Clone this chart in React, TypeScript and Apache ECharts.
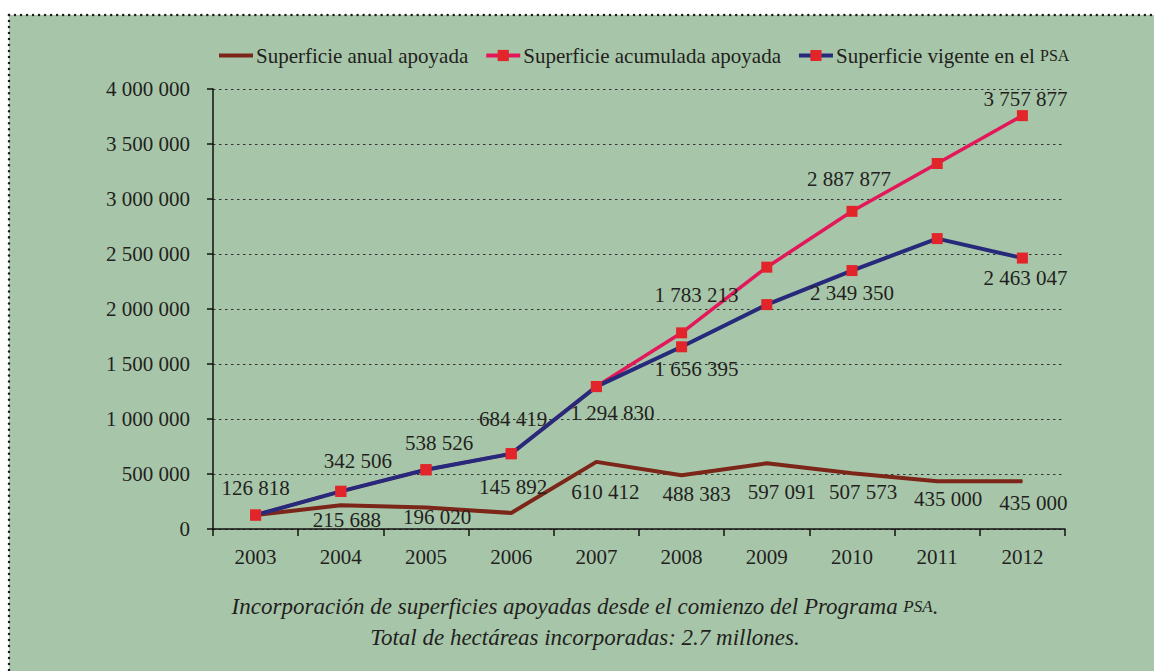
import React, { useEffect, useRef } from 'react';
import * as echarts from 'echarts';

const years = ['2003', '2004', '2005', '2006', '2007', '2008', '2009', '2010', '2011', '2012'];
const anual = [126818, 215688, 196020, 145892, 610412, 488383, 597091, 507573, 435000, 435000];
const acumulada = [126818, 342506, 538526, 684419, 1294830, 1783213, 2380304, 2887877, 3322877, 3757877];
const vigente = [126818, 342506, 538526, 684419, 1294830, 1656395, 2040000, 2349350, 2640000, 2463047];

const seriesNames = ['Superficie anual apoyada', 'Superficie acumulada apoyada', 'Superficie vigente en el PSA'];
const captionLine1 = 'Incorporación de superficies apoyadas desde el comienzo del Programa {sc|PSA}.';
const captionLine2 = 'Total de hectáreas incorporadas: 2.7 millones.';

// label placement (offset of label centre from the point), null = no label
const anualLabelOffsets: (number[] | null)[] = [null, [6, 15], [11, 10], [2, -26], [9, 30], [15, 19], [15, 29], [11, 19], [11, 18], [11, 22]];
const acumLabelOffsets: (number[] | null)[] = [[0, -27], [17, -30], [13, -27], [2, -35], [16, 26], [15, -38], null, [-3, -32], null, [3, -17]];
const vigenteLabelOffsets: (number[] | null)[] = [null, null, null, null, null, [15, 22], null, [0, 22], null, [3, 20]];

const FONT = '"Liberation Serif", "DejaVu Serif", serif';
const TEXT = '#231f20';
const GREEN = '#a7c6a9';
const BROWN = '#7b2618';
const CRIMSON = '#e3185a';
const NAVY = '#27297a';
const MARK = '#e2242b';

const fmt = (v: number) => String(v).replace(/\B(?=(\d{3})+(?!\d))/g, ' ');

function buildData(values: number[], offsets: (number[] | null)[]) {
  return values.map((v, i) => {
    const off = offsets[i];
    return {
      value: v,
      label: off
        ? {
            show: true,
            position: 'inside',
            offset: off,
            formatter: () => fmt(v),
            color: TEXT,
            fontFamily: FONT,
            fontSize: 21,
            textBorderWidth: 0,
          }
        : { show: false },
    };
  });
}

export default function App() {
  const ref = useRef<HTMLDivElement>(null);
  useEffect(() => {
    if (!ref.current) return;
    const chart = echarts.init(ref.current, null, { renderer: 'svg' });
    chart.setOption({
      animation: false,
      backgroundColor: '#ffffff',
      textStyle: { fontFamily: FONT, color: TEXT },
      graphic: [
        { type: 'rect', z: -10, silent: true, shape: { x: 9, y: 15, width: 1150, height: 660 }, style: { fill: GREEN } },
        { type: 'line', z: -5, silent: true, shape: { x1: 9, y1: 15, x2: 1154, y2: 15 }, style: { stroke: '#1a1a1a', lineWidth: 2.5, lineDash: [0.01, 6], lineCap: 'round' } },
        { type: 'line', z: -5, silent: true, shape: { x1: 9, y1: 15, x2: 9, y2: 671 }, style: { stroke: '#1a1a1a', lineWidth: 2.5, lineDash: [0.01, 6], lineCap: 'round' } },
        {
          type: 'text', x: 585, y: 606,
          style: {
            text: captionLine1, fill: TEXT, font: 'italic 23px ' + FONT,
            textAlign: 'center', textVerticalAlign: 'middle',
            rich: { sc: { fontSize: 17, fontStyle: 'italic', fontFamily: FONT, fill: TEXT } },
          },
        },
        {
          type: 'text', x: 585, y: 637,
          style: { text: captionLine2, fill: TEXT, font: 'italic 23px ' + FONT, textAlign: 'center', textVerticalAlign: 'middle' },
        },
      ],
      legend: {
        left: 214,
        top: 40,
        itemWidth: 34,
        itemHeight: 14,
        itemGap: 16,
        data: [
          { name: seriesNames[0], icon: 'path://M0,0H34V4H0Z', itemStyle: { color: BROWN } },
          { name: seriesNames[1], lineStyle: { color: CRIMSON, width: 4 }, itemStyle: { color: MARK } },
          { name: seriesNames[2], lineStyle: { color: NAVY, width: 4 }, itemStyle: { color: MARK } },
        ],
        formatter: (n: string) => n.replace('PSA', '{sc|PSA}'),
        textStyle: {
          fontFamily: FONT, fontSize: 21, color: TEXT, padding: [0, 0, 0, -2],
          rich: { sc: { fontSize: 16, fontFamily: FONT, color: TEXT } },
        },
      },
      grid: { left: 213, right: 89, top: 89, bottom: 142, containLabel: false },
      xAxis: {
        type: 'category',
        data: years,
        boundaryGap: true,
        axisLine: { lineStyle: { color: '#111', width: 1.5 } },
        axisTick: { show: true, length: 7, inside: false, lineStyle: { color: '#111', width: 1.5 } },
        axisLabel: { margin: 17, fontFamily: FONT, fontSize: 21, color: TEXT },
      },
      yAxis: {
        type: 'value',
        min: 0,
        max: 4000000,
        interval: 500000,
        axisLine: { show: true, lineStyle: { color: '#111', width: 1.5 } },
        axisTick: { show: true, length: 6, lineStyle: { color: '#111', width: 1.5 } },
        axisLabel: { margin: 23, fontFamily: FONT, fontSize: 21, color: TEXT, formatter: (v: number) => fmt(v) },
        splitLine: { show: true, lineStyle: { color: '#333', width: 1, type: [2.5, 3.5] } },
      },
      series: [
        {
          name: seriesNames[0],
          type: 'line',
          symbol: 'circle',
          symbolSize: 1,
          data: buildData(anual, anualLabelOffsets),
          lineStyle: { color: BROWN, width: 4 },
          itemStyle: { color: BROWN },
        },
        {
          name: seriesNames[1],
          type: 'line',
          symbol: 'rect',
          symbolSize: 11,
          data: buildData(acumulada, acumLabelOffsets),
          lineStyle: { color: CRIMSON, width: 3.5 },
          itemStyle: { color: MARK },
        },
        {
          name: seriesNames[2],
          type: 'line',
          symbol: 'rect',
          symbolSize: 11,
          data: buildData(vigente, vigenteLabelOffsets),
          lineStyle: { color: NAVY, width: 4 },
          itemStyle: { color: MARK },
        },
      ],
    });
    return () => chart.dispose();
  }, []);
  return (
    <div style={{ position: 'absolute', left: 0, top: 0, width: 1154, height: 671 }}>
      <div ref={ref} style={{ width: 1154, height: 671 }} />
    </div>
  );
}
